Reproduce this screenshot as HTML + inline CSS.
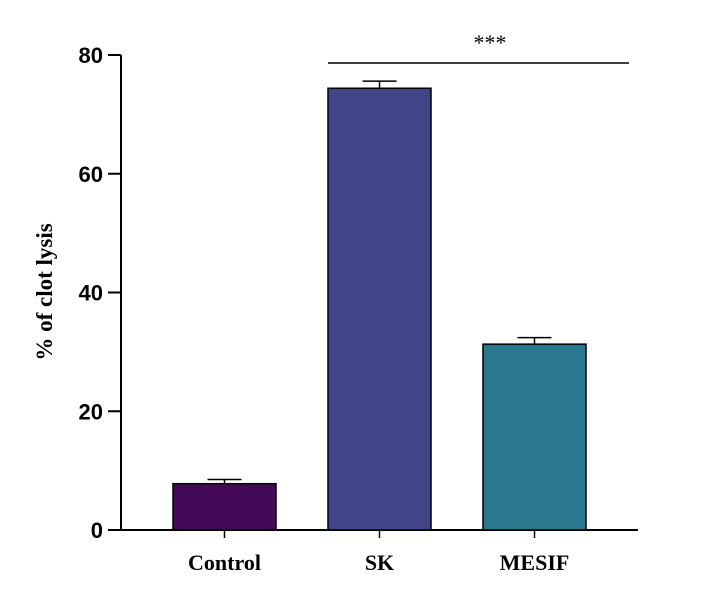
<!DOCTYPE html>
<html><head><meta charset="utf-8"><style>body{margin:0;background:#fff}</style></head>
<body>
<svg width="724" height="601" xmlns="http://www.w3.org/2000/svg" id="chart">
<text transform="translate(52,292) rotate(-90)" text-anchor="middle" font-family="Liberation Serif, serif" font-weight="bold" font-size="23">% of clot lysis</text>
<g id="axes"></g><g id="bars"></g>
<line x1="328" y1="63" x2="629" y2="63" stroke="#000" stroke-width="1.5"/>
<text x="490" y="50" text-anchor="middle" font-family="Liberation Serif, serif" font-size="22">***</text>
</svg>
<script>
const categories = ["Control","SK","MESIF"];
const values = [7.8, 74.4, 31.3];
const errors = [0.7, 1.2, 1.1];
const colors = ["#440a57","#414487","#2a788e"];
const yTicks = [0,20,40,60,80];
const NS="http://www.w3.org/2000/svg";
const y0=530, yTop=55, yMax=80;
const y=v=>y0-(y0-yTop)*v/yMax;
const xL=[173,328,483], bw=103;
const ax=document.getElementById('axes'), bg=document.getElementById('bars');
function mk(tag,attrs,parent){const e=document.createElementNS(NS,tag);for(const k in attrs)e.setAttribute(k,attrs[k]);parent.appendChild(e);return e;}
let l=mk('line',{x1:121,y1:yTop,x2:121,y2:y0,stroke:'#000','stroke-width':2},ax);


l=mk('line',{x1:121,y1:y0,x2:638,y2:y0,stroke:'#000','stroke-width':2},ax);


yTicks.forEach(t=>{
  const tk=mk('line',{x1:108,y1:y(t),x2:121,y2:y(t),stroke:'#000','stroke-width':2},ax);
  
  
  const tx=mk('text',{x:103,y:y(t)+8,'text-anchor':'end','font-family':'Liberation Sans, sans-serif','font-weight':'bold','font-size':22},ax);
  tx.textContent=t;
  
  
});
categories.forEach((c,i)=>{
  const x=xL[i], cx=x+bw/2;
  const r=mk('rect',{x:x,y:y(values[i]),width:bw,height:y0-y(values[i]),fill:colors[i],stroke:'#000','stroke-width':1.5},bg);
  
  
  const e1=mk('line',{x1:cx,y1:y(values[i]),x2:cx,y2:y(values[i]+errors[i]),stroke:'#000','stroke-width':1.5},bg);
  
  
  const e2=mk('line',{x1:cx-17,y1:y(values[i]+errors[i]),x2:cx+17,y2:y(values[i]+errors[i]),stroke:'#000','stroke-width':1.5},bg);
  
  
  const tk=mk('line',{x1:cx,y1:y0,x2:cx,y2:y0+8,stroke:'#000','stroke-width':1.5},ax);
  
  
  const tx=mk('text',{x:cx,y:570,'text-anchor':'middle','font-family':'Liberation Serif, serif','font-weight':'bold','font-size':22},ax);
  tx.textContent=c;
  
  
});
</script>
</body></html>
